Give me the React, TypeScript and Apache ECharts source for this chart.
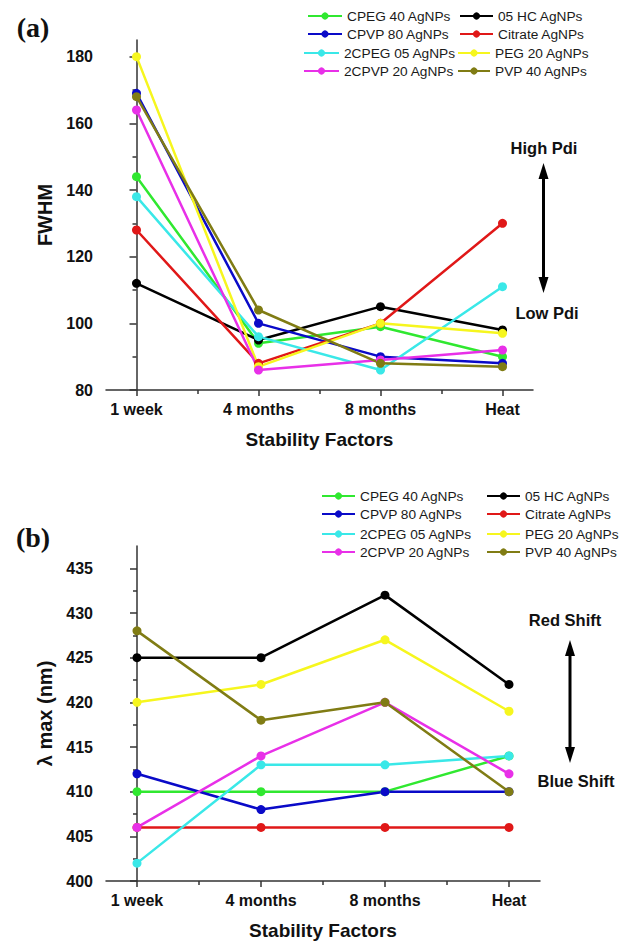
import React, { useEffect, useRef } from "react";
import * as echarts from "echarts";

const categories = ["1 week", "4 months", "8 months", "Heat"];
const categoryTicks = [0, 1, 2, 3];
const categoryMinorTicks = [0.5, 1.5, 2.5];

const seriesNames = [
  "CPEG 40 AgNPs",
  "05 HC AgNPs",
  "CPVP 80 AgNPs",
  "Citrate AgNPs",
  "2CPEG 05 AgNPs",
  "PEG 20 AgNPs",
  "2CPVP 20 AgNPs",
  "PVP 40 AgNPs",
];
const seriesColors = ["#30e830", "#000000", "#0a0ac8", "#e01818", "#3ae8e8", "#f6f61e", "#e830e8", "#807c14"];

// Panel (a) FWHM
const fwhmCPEG40 = [144, 94, 99, 90];
const fwhm05HC = [112, 95, 105, 98];
const fwhmCPVP80 = [169, 100, 90, 88];
const fwhmCitrate = [128, 88, 100, 130];
const fwhm2CPEG05 = [138, 96, 86, 111];
const fwhmPEG20 = [180, 87, 100, 97];
const fwhm2CPVP20 = [164, 86, 89, 92];
const fwhmPVP40 = [168, 104, 88, 87];

// Panel (b) lambda max (nm)
const lambdaCPEG40 = [410, 410, 410, 414];
const lambda05HC = [425, 425, 432, 422];
const lambdaCPVP80 = [412, 408, 410, 410];
const lambdaCitrate = [406, 406, 406, 406];
const lambda2CPEG05 = [402, 413, 413, 414];
const lambdaPEG20 = [420, 422, 427, 419];
const lambda2CPVP20 = [406, 414, 420, 412];
const lambdaPVP40 = [428, 418, 420, 410];

const fwhmTicks = [80, 100, 120, 140, 160, 180];
const fwhmMinorTicks = [90, 110, 130, 150, 170];
const lambdaTicks = [400, 405, 410, 415, 420, 425, 430, 435];
const lambdaMinorTicks = [402.5, 407.5, 412.5, 417.5, 422.5, 427.5, 432.5];

const fwhmData = [fwhmCPEG40, fwhm05HC, fwhmCPVP80, fwhmCitrate, fwhm2CPEG05, fwhmPEG20, fwhm2CPVP20, fwhmPVP40];
const lambdaData = [lambdaCPEG40, lambda05HC, lambdaCPVP80, lambdaCitrate, lambda2CPEG05, lambdaPEG20, lambda2CPVP20, lambdaPVP40];

const FONT = "'Liberation Sans', Arial, sans-serif";
const AXIS_COLOR = "#333";

function xAxes(gridIndex: number) {
  return [
    {
      type: "value",
      gridIndex,
      position: "bottom",
      min: -0.25,
      max: 3.25,
      axisLine: { show: true, lineStyle: { color: AXIS_COLOR, width: 1.5 } },
      axisTick: { show: true, customValues: categoryTicks, length: 6, lineStyle: { color: AXIS_COLOR, width: 1.5 } },
      axisLabel: {
        customValues: categoryTicks,
        formatter: (v: number) => categories[Math.round(v)] ?? "",
        margin: 11,
        fontSize: 16,
        fontWeight: "bold",
        fontFamily: FONT,
        color: "#111",
      },
      splitLine: { show: false },
      name: "Stability Factors",
      nameLocation: "middle",
      nameGap: 40,
      nameTextStyle: { fontSize: 19, fontWeight: "bold", fontFamily: FONT, color: "#111" },
    },
    {
      type: "value",
      gridIndex,
      position: "bottom",
      min: -0.25,
      max: 3.25,
      axisLine: { show: false },
      axisTick: { show: true, customValues: categoryMinorTicks, length: 4, lineStyle: { color: AXIS_COLOR, width: 1.5 } },
      axisLabel: { show: false },
      splitLine: { show: false },
    },
  ];
}

function yAxes(gridIndex: number, min: number, max: number, ticks: number[], minor: number[], name: string, nameGap: number) {
  return [
    {
      type: "value",
      gridIndex,
      position: "left",
      min,
      max,
      axisLine: { show: true, lineStyle: { color: AXIS_COLOR, width: 1.5 } },
      axisTick: { show: true, customValues: ticks, length: 7, lineStyle: { color: AXIS_COLOR, width: 1.5 } },
      axisLabel: {
        customValues: ticks,
        margin: 13,
        fontSize: 16,
        fontWeight: "bold",
        fontFamily: FONT,
        color: "#111",
      },
      splitLine: { show: false },
      name,
      nameLocation: "middle",
      nameGap,
      nameTextStyle: { fontSize: 20, fontWeight: "bold", fontFamily: FONT, color: "#111" },
    },
    {
      type: "value",
      gridIndex,
      position: "left",
      min,
      max,
      axisLine: { show: false },
      axisTick: { show: true, customValues: minor, length: 4, lineStyle: { color: AXIS_COLOR, width: 1.5 } },
      axisLabel: { show: false },
      splitLine: { show: false },
    },
  ];
}

function makeSeries(data: number[][], xAxisIndex: number, yAxisIndex: number) {
  return data.map((vals, i) => ({
    type: "line",
    name: seriesNames[i],
    xAxisIndex,
    yAxisIndex,
    data: vals.map((v, j) => [j, v]),
    symbol: "circle",
    symbolSize: 9,
    lineStyle: { width: 2.5, color: seriesColors[i] },
    itemStyle: { color: seriesColors[i] },
    emphasis: { disabled: true },
  }));
}

function legend(left: number, top: number, data: string[], itemWidth: number) {
  return {
    left,
    top,
    orient: "vertical",
    padding: 0,
    itemGap: 2,
    itemWidth,
    itemHeight: 9,
    selectedMode: false,
    data,
    textStyle: { fontSize: 13.7, fontFamily: FONT, color: "#1a1a1a", lineHeight: 16 },
  };
}

function arrow(x: number, yTop: number, yBottom: number) {
  const head = 16;
  const hw = 5;
  return [
    { type: "line", shape: { x1: x, y1: yTop + head - 2, x2: x, y2: yBottom - head + 2 }, style: { stroke: "#000", lineWidth: 3 } },
    { type: "polygon", shape: { points: [[x, yTop], [x - hw, yTop + head], [x + hw, yTop + head]] }, style: { fill: "#000" } },
    { type: "polygon", shape: { points: [[x, yBottom], [x - hw, yBottom - head], [x + hw, yBottom - head]] }, style: { fill: "#000" } },
  ];
}

function label(text: string, x: number, y: number, fontSize: number, fontFamily: string) {
  return {
    type: "text",
    x,
    y,
    style: { text, fontSize, fontWeight: "bold", fontFamily, fill: "#111", align: "center", verticalAlign: "middle" },
  };
}

export default function App() {
  const ref = useRef<HTMLDivElement>(null);
  useEffect(() => {
    if (!ref.current) return;
    const chart = echarts.init(ref.current, undefined, { renderer: "svg" });
    const option: any = {
      animation: false,
      backgroundColor: "#fff",
      grid: [
        { left: 106, top: 40, width: 427, height: 350 },
        { left: 106, top: 546, width: 434, height: 336 },
      ],
      xAxis: [...xAxes(0), ...xAxes(1)],
      yAxis: [
        ...yAxes(0, 80, 185, fwhmTicks, fwhmMinorTicks, "FWHM", 51),
        ...yAxes(1, 400, 437.5, lambdaTicks, lambdaMinorTicks, "λ max (nm)", 47),
      ],
      legend: [
        legend(307, 8, [seriesNames[0], seriesNames[2]], 34),
        legend(303, 45, [seriesNames[4], seriesNames[6]], 35),
        legend(459, 8, [seriesNames[1], seriesNames[3]], 33),
        legend(457, 45, [seriesNames[5], seriesNames[7]], 32),
        legend(321, 488, [seriesNames[0], seriesNames[2]], 33),
        legend(321, 526, [seriesNames[4], seriesNames[6]], 33),
        legend(486, 488, [seriesNames[1], seriesNames[3]], 33),
        legend(486, 526, [seriesNames[5], seriesNames[7]], 33),
      ],
      graphic: [
        label("(a)", 33, 27, 28, "'Liberation Serif', 'Times New Roman', serif"),
        label("(b)", 33, 537, 28, "'Liberation Serif', 'Times New Roman', serif"),
        label("High Pdi", 544, 148, 16.5, FONT),
        label("Low Pdi", 547, 313, 16.5, FONT),
        label("Red Shift", 565, 620, 16.5, FONT),
        label("Blue Shift", 576, 781, 16.5, FONT),
        ...arrow(543.5, 163, 293),
        ...arrow(570, 640, 763),
      ],
      series: [...makeSeries(fwhmData, 0, 0), ...makeSeries(lambdaData, 2, 2)],
    };
    chart.setOption(option);
    return () => chart.dispose();
  }, []);
  return <div ref={ref} style={{ position: "absolute", left: 0, top: 0, width: 628, height: 941 }} />;
}
